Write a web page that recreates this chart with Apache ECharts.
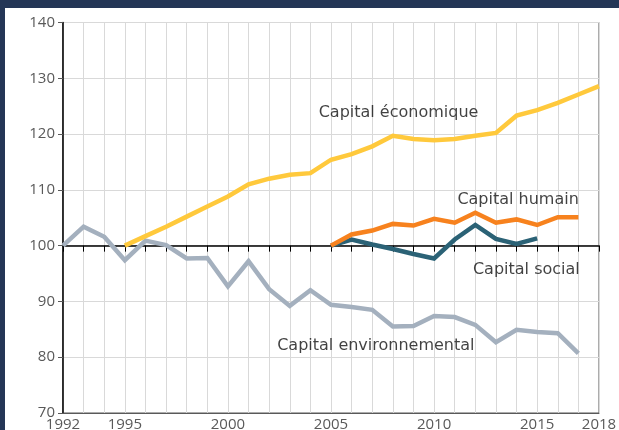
<!DOCTYPE html>
<html>
<head>
<meta charset="utf-8">
<script src="https://cdn.jsdelivr.net/npm/echarts@6/dist/echarts.min.js"></script>
<style>
html,body{margin:0;padding:0;background:#fff;overflow:hidden;}
#frame{position:absolute;left:0;top:0;width:619px;height:430px;box-sizing:border-box;border-top:8px solid #243656;border-left:5px solid #243656;overflow:hidden;background:#fff;}
#chart{width:614px;height:422px;}
</style>
</head>
<body>
<div id="frame"><div id="chart"></div></div>
<script>
// Data
const years = [1992,1993,1994,1995,1996,1997,1998,1999,2000,2001,2002,2003,2004,2005,2006,2007,2008,2009,2010,2011,2012,2013,2014,2015,2016,2017,2018];
const xTickLabels = [1992,1995,2000,2005,2010,2015,2018];
const yTickLabels = [70,80,90,100,110,120,130,140];

const economique = [null,null,null,100,101.7,103.4,105.2,107.0,108.8,111.0,112.0,112.7,113.0,115.4,116.4,117.8,119.7,119.1,118.9,119.1,119.7,120.2,123.3,124.3,125.6,127.1,128.6];
const humain = [null,null,null,null,null,null,null,null,null,null,null,null,null,100,102.0,102.7,103.9,103.6,104.8,104.1,105.9,104.1,104.7,103.7,105.1,105.1,null];
const social = [null,null,null,null,null,null,null,null,null,null,null,null,null,100,101.1,100.2,99.4,98.5,97.7,101.1,103.7,101.2,100.3,101.3,null,null,null];
const environnemental = [100,103.4,101.6,97.4,100.9,100.1,97.7,97.8,92.7,97.2,92.2,89.2,92.0,89.4,89.0,88.5,85.5,85.6,87.4,87.2,85.8,82.7,84.9,84.5,84.3,80.7,null];

const seriesNames = ['Capital économique','Capital humain','Capital social','Capital environnemental'];
const seriesColors = ['#FFC93C','#F7821E','#2B6276','#A4B0BE'];
// annotation anchor points (x in years, y in index units)
const annotations = [
  {name:'Capital économique', at:[2008.3,123.8]},
  {name:'Capital humain', at:[2014.1,108.1]},
  {name:'Capital social', at:[2014.5,95.6]},
  {name:'Capital environnemental', at:[2007.2,82.0]}
];

const pairs = arr => years.map((y,i)=>[y,arr[i]]);

const plotTop = 14.5, plotBottom = 405; // within chart div
const gridLeft = 58, gridRight = 20;
const yMin = 70, yMax = 140;
const baseH = (plotBottom-plotTop)*(yMax-100)/(yMax-yMin);

const chart = echarts.init(document.getElementById('chart'));
const axisFont = {fontFamily:'Open Sans', fontSize:15, color:'#595959'};
chart.setOption({
  animation:false,
  grid:[
    {left:gridLeft,right:gridRight,top:plotTop,height:plotBottom-plotTop,show:true,borderColor:'#595959',borderWidth:1,containLabel:false,outerBoundsMode:'none'},
    {left:gridLeft,right:gridRight,top:plotTop,height:baseH,containLabel:false,outerBoundsMode:'none'}
  ],
  xAxis:[
    {type:'value',gridIndex:0,min:years[0],max:years[years.length-1],interval:1,
     axisLine:{show:true,lineStyle:{color:'#595959',width:1}},
     axisTick:{show:false},
     splitLine:{show:true,lineStyle:{color:'#d9d9d9',width:1}},
     axisLabel:{...axisFont,margin:4,formatter:v=>xTickLabels.includes(v)?String(v):''}},
    {type:'value',gridIndex:1,min:years[0],max:years[years.length-1],interval:1,
     axisLine:{show:true,onZero:false,lineStyle:{color:'#000',width:1.5}},
     axisTick:{show:true,length:6,lineStyle:{color:'#000',width:1}},
     splitLine:{show:false},axisLabel:{show:false}}
  ],
  yAxis:[
    {type:'value',gridIndex:0,min:yMin,max:yMax,interval:10,
     axisLine:{show:true,lineStyle:{color:'#000',width:1.5}},
     axisTick:{show:true,length:5,lineStyle:{color:'#595959'}},
     splitLine:{show:true,lineStyle:{color:'#d9d9d9',width:1}},
     axisLabel:{...axisFont,margin:8,formatter:v=>yTickLabels.includes(v)?String(v):''}},
    {type:'value',gridIndex:1,min:100,max:yMax,show:false}
  ],
  series:[
    ...[environnemental,social,humain,economique].map((arr,k)=>{
      const idx = [3,2,1,0][k];
      return {type:'line',name:seriesNames[idx],data:pairs(arr),showSymbol:false,symbol:'none',
        lineStyle:{color:seriesColors[idx],width:4.5,join:'miter'},connectNulls:false,z:3+k};
    }),
    {type:'scatter',symbol:'circle',symbolSize:1,silent:true,itemStyle:{color:'rgba(0,0,0,0)'},
     data:annotations.map(a=>({name:a.name,value:a.at})),
     label:{show:true,position:[0,0],align:'center',verticalAlign:'middle',formatter:p=>p.name,
       fontFamily:'DejaVu Sans',fontSize:16,color:'#111111',textBorderWidth:0},z:10}
  ]
});
</script>
</body>
</html>
